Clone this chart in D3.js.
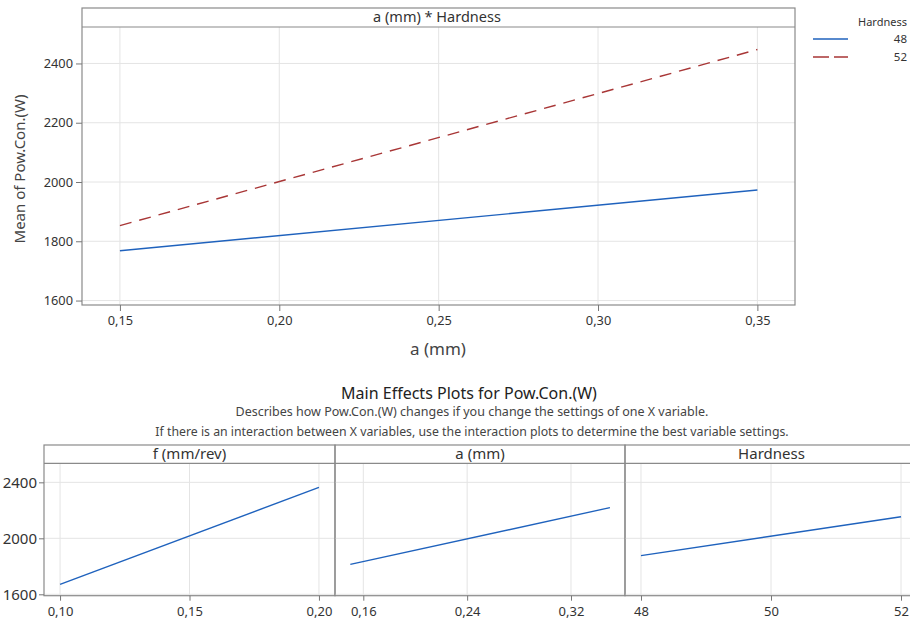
<!DOCTYPE html>
<html>
<head>
<meta charset="utf-8">
<script src="https://cdn.jsdelivr.net/npm/d3@7"></script>
<style>
  html, body { margin: 0; padding: 0; background: #fff; }
  svg { display: block; font-family: "Noto Sans", "Open Sans", sans-serif; }
</style>
</head>
<body>
<svg id="chart" width="910" height="630"></svg>
<script>
// ---------- data ----------
const aLevels = [0.15, 0.35];
const hardnessGroups = ["48", "52"];
const powH48 = [1768, 1973];
const powH52 = [1853, 2447];

const fLevels = [0.10, 0.20];
const fMeans = [1671, 2364];
const aMeans = [1814, 2219];
const hLevels = [48, 52];
const hMeans = [1876, 2154];

const topXTicks = [0.15, 0.20, 0.25, 0.30, 0.35];
const topYTicks = [1600, 1800, 2000, 2200, 2400];
const fTicks = [0.10, 0.15, 0.20];
const aTicks = [0.16, 0.24, 0.32];
const hTicks = [48, 50, 52];
const bottomYTicks = [1600, 2000, 2400];

const panelTitles = ["f (mm/rev)", "a (mm)", "Hardness"];

// ---------- setup ----------
const svg = d3.select("#chart");
const locale = d3.formatLocale({decimal: ",", thousands: ".", grouping: [3], currency: ["", ""]});
const fmt2 = locale.format(".2f");
const fmtInt = d3.format("d");

const GRID = "#e4e4e4", FRAME = "#8a8a8a", AXIS = "#777", TXT = "#333";
const BLUE = "#1f62bd", RED = "#a83636";

// ---------- top interaction plot ----------
const T = {x0: 82, x1: 795, top: 8, strip: 27, bottom: 305};
const tx = d3.scaleLinear().domain([0.1381, 0.3618]).range([T.x0, T.x1]);
const ty = d3.scaleLinear().domain([1585, 2523]).range([T.bottom, T.strip]);

const topG = svg.append("g");
// grid
topG.append("g").selectAll("line").data(topXTicks).join("line")
  .attr("x1", d => tx(d)).attr("x2", d => tx(d)).attr("y1", T.strip).attr("y2", T.bottom)
  .attr("stroke", GRID).attr("stroke-width", 1);
topG.append("g").selectAll("line").data(topYTicks).join("line")
  .attr("x1", T.x0).attr("x2", T.x1).attr("y1", d => ty(d)).attr("y2", d => ty(d))
  .attr("stroke", GRID).attr("stroke-width", 1);
// frame + strip
topG.append("rect").attr("x", T.x0).attr("y", T.top).attr("width", T.x1 - T.x0).attr("height", T.bottom - T.top)
  .attr("fill", "none").attr("stroke", FRAME).attr("stroke-width", 1.2);
topG.append("line").attr("x1", T.x0).attr("x2", T.x1).attr("y1", T.strip).attr("y2", T.strip)
  .attr("stroke", FRAME).attr("stroke-width", 1.2);
topG.append("text").attr("x", 437).attr("y", T.strip - 5).attr("text-anchor", "middle")
  .attr("font-size", 14.5).attr("fill", TXT).text("a (mm) * Hardness");

// axes
const tAxX = topG.append("g").attr("transform", `translate(0,${T.bottom})`)
  .call(d3.axisBottom(tx).tickValues(topXTicks).tickFormat(fmt2).tickSize(6).tickPadding(5));
const tAxY = topG.append("g").attr("transform", `translate(${T.x0},0)`)
  .call(d3.axisLeft(ty).tickValues(topYTicks).tickFormat(fmtInt).tickSize(6).tickPadding(3));
[tAxX, tAxY].forEach(a => {
  a.select(".domain").remove();
  a.selectAll(".tick line").attr("stroke", AXIS);
  a.selectAll(".tick text").attr("fill", TXT).attr("font-size", 12.8).attr("font-family", "Noto Sans, sans-serif");
});

// lines
const lineGen = (xs, sx, sy) => d3.line().x((d, i) => sx(xs[i])).y(d => sy(d));
const series = [
  {name: hardnessGroups[0], vals: powH48, color: BLUE, dash: null},
  {name: hardnessGroups[1], vals: powH52, color: RED, dash: "12,8"}
];
topG.append("g").selectAll("path").data(series).join("path")
  .attr("d", d => lineGen(aLevels, tx, ty)(d.vals))
  .attr("fill", "none").attr("stroke", d => d.color).attr("stroke-width", 1.4)
  .attr("stroke-dasharray", d => d.dash);

// axis labels
svg.append("text").attr("x", 438).attr("y", 355).attr("text-anchor", "middle")
  .attr("font-size", 17).attr("fill", "#444").text("a (mm)");
svg.append("text").attr("transform", `translate(25,169) rotate(-90)`)
  .attr("text-anchor", "middle").attr("font-size", 15).attr("fill", "#444").text("Mean of Pow.Con.(W)");

// legend
const lg = svg.append("g");
lg.append("text").attr("x", 907).attr("y", 26).attr("text-anchor", "end").attr("font-size", 11).attr("fill", TXT).text("Hardness");
series.forEach((s, i) => {
  const y = 39 + i * 18;
  lg.append("line").attr("x1", 813).attr("x2", 848).attr("y1", y).attr("y2", y)
    .attr("stroke", s.color).attr("stroke-width", 1.4).attr("stroke-dasharray", s.dash ? "16,5" : null);
  lg.append("text").attr("x", 907).attr("y", y + 4).attr("text-anchor", "end").attr("font-size", 11.5).attr("fill", TXT).text(s.name);
});

// ---------- bottom main effects ----------
const cx = 472;
svg.append("text").attr("x", cx - 3).attr("y", 399).attr("text-anchor", "middle").attr("font-size", 16).attr("fill", "#222")
  .text("Main Effects Plots for Pow.Con.(W)");
svg.append("text").attr("x", cx).attr("y", 416).attr("text-anchor", "middle").attr("font-size", 12.5).attr("fill", "#444")
  .text("Describes how Pow.Con.(W) changes if you change the settings of one X variable.");
svg.append("text").attr("x", cx).attr("y", 436).attr("text-anchor", "middle").attr("font-size", 12.3).attr("fill", "#444")
  .text("If there is an interaction between X variables, use the interaction plots to determine the best variable settings.");

const B = {top: 445, strip: 463.3, bottom: 595.7};
const by = d3.scaleLinear().domain([1590, 2536]).range([B.bottom, B.strip]);

const panels = [
  {title: panelTitles[0], x0: 44, x1: 335, dom: [0.0938, 0.2062], ticks: fTicks, fmt: fmt2, xs: fLevels, ys: fMeans},
  {title: panelTitles[1], x0: 335, x1: 625, dom: [0.1382, 0.3616], ticks: aTicks, fmt: fmt2, xs: aLevels, ys: aMeans},
  {title: panelTitles[2], x0: 625, x1: 917, dom: [47.754, 52.246], ticks: hTicks, fmt: fmtInt, xs: hLevels, ys: hMeans}
];

panels.forEach((p, k) => {
  const g = svg.append("g");
  const sx = d3.scaleLinear().domain(p.dom).range([p.x0, p.x1]);
  g.append("g").selectAll("line").data(p.ticks).join("line")
    .attr("x1", d => sx(d)).attr("x2", d => sx(d)).attr("y1", B.strip).attr("y2", B.bottom)
    .attr("stroke", GRID);
  g.append("g").selectAll("line").data(bottomYTicks).join("line")
    .attr("x1", p.x0).attr("x2", p.x1).attr("y1", d => by(d)).attr("y2", d => by(d))
    .attr("stroke", GRID);
  g.append("rect").attr("x", p.x0).attr("y", B.top).attr("width", p.x1 - p.x0).attr("height", B.bottom - B.top)
    .attr("fill", "none").attr("stroke", FRAME).attr("stroke-width", 1.2);
  g.append("line").attr("x1", p.x0).attr("x2", p.x1).attr("y1", B.strip).attr("y2", B.strip)
    .attr("stroke", FRAME).attr("stroke-width", 1.2);
  g.append("text").attr("x", (p.x0 + Math.min(p.x1, 910)) / 2 + (k === 2 ? 4 : 0)).attr("y", B.strip - 4)
    .attr("text-anchor", "middle").attr("font-size", 15).attr("fill", TXT).text(p.title);

  const ax = g.append("g").attr("transform", `translate(0,${B.bottom})`)
    .call(d3.axisBottom(sx).tickValues(p.ticks).tickFormat(p.fmt).tickSize(5).tickPadding(6));
  ax.select(".domain").remove();
  ax.selectAll(".tick line").attr("stroke", AXIS);
  ax.selectAll(".tick text").attr("fill", TXT).attr("font-size", 13).attr("font-family", "Noto Sans, sans-serif");

  if (k === 0) {
    const ay = g.append("g").attr("transform", `translate(${p.x0},0)`)
      .call(d3.axisLeft(by).tickValues(bottomYTicks).tickFormat(fmtInt).tickSize(5).tickPadding(2));
    ay.select(".domain").remove();
    ay.selectAll(".tick line").attr("stroke", AXIS);
    ay.selectAll(".tick text").attr("fill", TXT).attr("font-size", 15).attr("font-family", "Noto Sans, sans-serif");
  }

  g.append("path").datum(p.ys)
    .attr("d", lineGen(p.xs, sx, by))
    .attr("fill", "none").attr("stroke", BLUE).attr("stroke-width", 1.4);
});
</script>
</body>
</html>
